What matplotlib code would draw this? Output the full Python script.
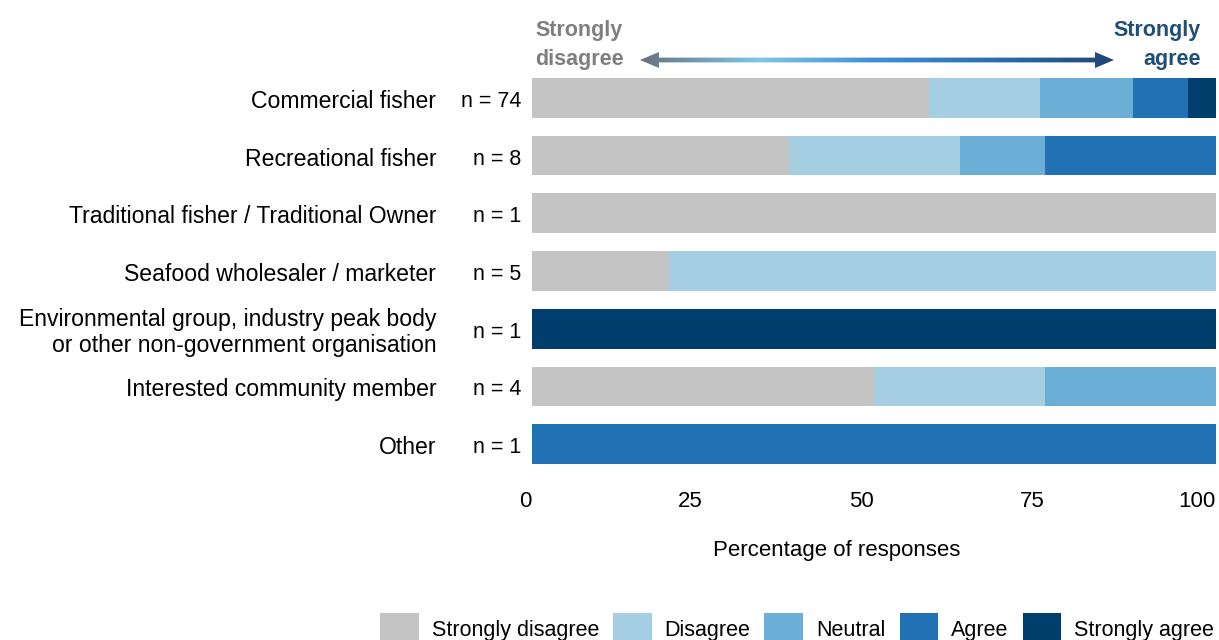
import numpy as np
import matplotlib
matplotlib.use("Agg")
import matplotlib.pyplot as plt
from matplotlib.patches import Polygon
from matplotlib.colors import LinearSegmentedColormap

plt.rcParams["font.family"] = ["Liberation Sans", "DejaVu Sans"]

categories = [
    "Commercial fisher",
    "Recreational fisher",
    "Traditional fisher / Traditional Owner",
    "Seafood wholesaler / marketer",
    "Environmental group, industry peak body\nor other non-government organisation",
    "Interested community member",
    "Other",
]
n_resp = [74, 8, 1, 5, 1, 4, 1]

responses = ["Strongly disagree", "Disagree", "Neutral", "Agree", "Strongly agree"]
strongly_disagree = [43, 3, 1, 1, 0, 2, 0]
disagree = [12, 2, 0, 4, 0, 1, 0]
neutral = [10, 1, 0, 0, 0, 1, 0]
agree = [6, 2, 0, 0, 0, 0, 1]
strongly_agree = [3, 0, 0, 0, 1, 0, 0]

colors = ["#C4C4C4", "#A6CEE3", "#6BAED6", "#2171B5", "#003F6D"]
xticks = [0, 25, 50, 75, 100]

fig = plt.figure(figsize=(12.19, 6.4), dpi=100)
ax = fig.add_axes([532 / 1219, 1 - 473 / 640, 684 / 1219, 404 / 640])

counts = np.array([strongly_disagree, disagree, neutral, agree, strongly_agree], dtype=float)
pct = counts / np.array(n_resp) * 100
y = np.arange(len(categories))
left = np.zeros(len(categories))
for i, name in enumerate(responses):
    ax.barh(y, pct[i], left=left, height=0.69, color=colors[i], label=name)
    left += pct[i]

ax.set_xlim(0, 100)
ax.set_ylim(len(categories) - 0.5, -0.5)
ax.set_yticks(y)
ax.set_yticklabels([])
ax.set_xticks(xticks)
ax.set_xticklabels([str(t) for t in xticks], fontsize=16, ha="right")
ax.tick_params(length=0, pad=13)
for s in ax.spines.values():
    s.set_visible(False)
ax.set_xlabel("Percentage of responses", fontsize=16)
ax.xaxis.set_label_coords(0.445, -0.165)

for yi, cat, n in zip(y, categories, n_resp):
    ax.text(-14, yi + 0.06, cat, ha="right", va="center", fontsize=16.6,
            linespacing=1.15, transform=ax.transData)
    ax.text(-1.5, yi + 0.06, f"n = {n}", ha="right", va="center", fontsize=15.5,
            transform=ax.transData)

# header labels
bold_font = ["Liberation Sans", "DejaVu Sans"]
fig.text(535 / 1219, 1 - 45 / 640, "Strongly\ndisagree", ha="left", va="center",
         fontsize=15.5, fontweight="bold", color="#7F7F7F", family=bold_font,
         linespacing=1.45)
fig.text(1201 / 1219, 1 - 45 / 640, "Strongly\nagree", ha="right", va="center",
         fontsize=15.5, fontweight="bold", color="#1F4E79", family=bold_font,
         linespacing=1.45, multialignment="right")

# gradient double arrow
aax = fig.add_axes([640 / 1219, 1 - 68 / 640, (1114 - 640) / 1219, 16 / 640])
aax.set_xlim(0, 1)
aax.set_ylim(-1, 1)
aax.axis("off")
grad = LinearSegmentedColormap.from_list(
    "arrow", ["#66737D", "#7FC6E6", "#3F8ED6", "#2A6DB3", "#1F4673"])
img = aax.imshow(np.linspace(0, 1, 256).reshape(1, -1), cmap=grad, aspect="auto",
                 extent=[0, 1, -1, 1])
hl = 19 / 474
sh = 0.3
arrow_shape = Polygon([[0, 0], [hl, 1], [hl, sh], [1 - hl, sh], [1 - hl, 1], [1, 0],
                       [1 - hl, -1], [1 - hl, -sh], [hl, -sh], [hl, -1]],
                      closed=True, facecolor="none", edgecolor="none",
                      transform=aax.transData)
aax.add_patch(arrow_shape)
img.set_clip_path(arrow_shape)

# legend (cut at the bottom edge, as in the source image)
handles, labels = ax.get_legend_handles_labels()
fig.legend(handles, labels, loc="upper center", bbox_to_anchor=(797 / 1219, 1 - 594 / 640),
           ncol=5, frameon=False, handlelength=1.8, handleheight=1.8,
           columnspacing=0.65, handletextpad=0.6,
           prop={"size": 15.5})

fig.savefig("out.png", dpi=100)
